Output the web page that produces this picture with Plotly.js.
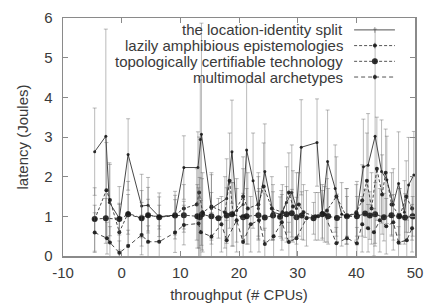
<!DOCTYPE html>
<html>
<head>
<meta charset="utf-8">
<script src="https://cdn.plot.ly/plotly-3.0.1.min.js"></script>
<style>html,body{margin:0;padding:0;background:#fff;}#chart{width:424px;height:303px;}</style>
</head>
<body>
<div id="chart"></div>
<script>
// Series names
const seriesNames = ["the location-identity split", "lazily amphibious epistemologies", "topologically certifiable technology", "multimodal archetypes"];

// Series A
const xA = [-4.6, -2.7, -2.1, -0.4, 1.1, 3.4, 4.5, 6.4, 9.1, 10.6, 13.0, 13.4, 13.6, 15.3, 17.9, 18.8, 19.6, 20.7, 21.3, 22.4, 23.3, 24.4, 25.8, 27.2, 28.1, 29.0, 29.8, 30.6, 33.3, 34.2, 35.1, 36.4, 37.5, 38.4, 40.1, 41.2, 42.0, 43.2, 44.3, 45.2, 46.3, 47.2, 48.2, 48.9, 49.8];
const yA = [2.63, 3.02, 1.35, 0.95, 2.56, 1.26, 1.28, 0.99, 1.03, 2.23, 2.23, 2.94, 3.07, 1.2, 1.45, 2.63, 1.15, 1.3, 2.67, 1.9, 1.2, 2.13, 1.1, 1.05, 1.35, 1.6, 1.2, 2.74, 2.86, 1.1, 2.38, 1.7, 1.05, 1.0, 1.08, 2.25, 2.29, 3.02, 2.13, 1.92, 1.3, 1.83, 1.1, 1.79, 2.04];
const eA = [1.1, 2.7, 1.0, 0.8, 0.9, 0.8, 0.7, 0.5, 0.5, 0.8, 0.9, 1.5, 2.8, 0.9, 1.0, 1.3, 0.8, 0.9, 1.7, 1.2, 0.8, 1.2, 0.7, 0.6, 0.9, 1.2, 0.9, 1.2, 1.1, 0.7, 1.3, 1.1, 0.8, 0.7, 0.8, 1.2, 1.3, 2.7, 1.3, 1.1, 0.9, 1.3, 0.8, 1.2, 1.1];

// Series B
const xB = [-4.6, -2.6, -2.0, -0.4, 1.1, 3.4, 4.5, 6.4, 9.1, 10.6, 12.8, 13.2, 13.8, 15.3, 17.6, 18.4, 19.0, 20.7, 21.5, 23.3, 24.2, 25.6, 27.4, 28.5, 29.2, 30.2, 31.0, 33.0, 35.0, 36.6, 38.3, 40.0, 41.0, 41.8, 42.6, 43.5, 44.4, 45.0, 46.0, 47.4, 48.5, 49.5];
const yB = [0.92, 1.66, 1.41, 0.6, 1.08, 0.95, 1.03, 0.99, 1.03, 1.2, 1.3, 1.6, 1.1, 1.25, 1.1, 1.9, 1.05, 1.5, 1.2, 1.3, 1.75, 1.2, 1.1, 1.6, 1.25, 1.3, 1.1, 1.0, 1.15, 1.5, 1.0, 1.1, 1.4, 1.9, 1.2, 2.2, 1.55, 2.1, 1.3, 1.0, 1.5, 1.2];
const eB = [0.8, 1.2, 0.9, 0.7, 0.8, 0.7, 0.7, 0.6, 0.6, 0.6, 0.9, 1.4, 1.0, 0.8, 0.9, 1.2, 0.8, 1.0, 0.9, 0.8, 1.1, 0.8, 0.7, 1.0, 0.9, 0.8, 0.7, 0.6, 0.8, 1.0, 0.7, 0.7, 0.9, 1.2, 0.9, 1.3, 1.0, 1.1, 0.8, 0.7, 0.9, 0.8];

// Series C
const xC = [-4.6, -2.7, -0.4, 1.1, 3.4, 4.5, 6.4, 9.1, 10.6, 12.9, 13.3, 13.7, 15.3, 16.5, 17.9, 18.8, 20.7, 21.3, 23.3, 24.4, 25.8, 27.0, 28.1, 29.0, 29.8, 30.7, 32.7, 34.2, 35.2, 36.7, 38.4, 40.1, 41.5, 42.3, 43.2, 44.7, 46.0, 47.3, 48.3, 49.6];
const yC = [0.93, 0.95, 0.93, 1.05, 0.95, 1.03, 0.98, 1.02, 1.03, 1.0, 0.98, 1.05, 1.0, 0.95, 1.02, 1.05, 0.98, 1.0, 1.03, 0.97, 1.02, 0.99, 1.05, 1.08, 0.98, 1.02, 0.95, 1.05, 1.0, 0.96, 1.0, 1.0, 1.07, 1.02, 1.05, 0.98, 1.03, 1.0, 0.97, 1.0];
const eC = [0.35, 0.5, 0.4, 0.5, 0.4, 0.4, 0.3, 0.4, 0.35, 0.8, 1.0, 0.9, 0.6, 0.5, 0.7, 0.8, 0.6, 0.7, 0.6, 0.6, 0.6, 0.5, 0.7, 0.6, 0.5, 0.6, 0.4, 0.6, 0.7, 0.6, 0.5, 0.5, 0.6, 0.6, 0.8, 0.6, 0.5, 0.7, 0.6, 0.5];

// Series D
const xD = [-4.6, -2.5, -2.0, -0.4, 1.1, 3.4, 4.5, 6.4, 9.1, 10.6, 13.1, 13.5, 15.3, 17.0, 17.9, 19.6, 20.7, 22.0, 23.4, 24.4, 25.9, 27.3, 28.5, 29.8, 31.5, 33.5, 34.6, 36.6, 38.4, 40.1, 41.0, 42.0, 43.0, 44.0, 45.1, 46.3, 47.2, 48.6, 49.5];
const yD = [0.59, 0.45, 0.34, 0.08, 0.25, 0.53, 0.36, 0.36, 0.59, 0.78, 0.82, 0.6, 0.49, 0.8, 0.4, 0.9, 0.35, 0.8, 0.9, 0.3, 0.5, 0.85, 0.35, 0.45, 0.95, 1.0, 1.05, 0.32, 0.45, 0.32, 0.8, 0.7, 0.6, 0.9, 0.75, 0.85, 0.34, 0.4, 0.7];
const eD = [0.5, 0.4, 0.4, 0.3, 0.4, 0.5, 0.4, 0.4, 0.5, 0.5, 0.9, 0.8, 0.6, 0.7, 0.5, 0.8, 0.6, 0.7, 0.8, 0.4, 0.6, 0.7, 0.5, 0.6, 0.7, 0.6, 0.7, 0.4, 0.5, 0.4, 0.7, 0.6, 0.6, 0.8, 0.7, 0.7, 0.4, 0.5, 0.6];

// Axis ticks
const xTicks = [-10, 0, 10, 20, 30, 40, 50];
const yTicks = [0, 1, 2, 3, 4, 5, 6];

const FONT = "Liberation Sans, Arial, sans-serif";
const TXT = "#3a3a3a";
const errStyle = (arr) => ({type: "data", array: arr, visible: true, color: "rgba(90,90,90,0.42)", thickness: 1, width: 2});

const styles = [
  {dash: "solid", size: 3, symbol: "circle"},
  {dash: "3px,2px", size: 4, symbol: "circle"},
  {dash: "3px,2px", size: 6, symbol: "circle"},
  {dash: "4px,3px", size: 4, symbol: "circle"}
];
const xs = [xA, xB, xC, xD], ys = [yA, yB, yC, yD], es = [eA, eB, eC, eD];

const traces = xs.map((x, i) => ({
  type: "scatter", mode: "lines+markers", name: seriesNames[i],
  x: x, y: ys[i], error_y: errStyle(es[i]),
  line: {color: "rgba(40,40,40,0.85)", width: 1, dash: styles[i].dash},
  marker: {color: "rgba(25,25,25,0.9)", size: styles[i].size, symbol: styles[i].symbol},
  showlegend: false, cliponaxis: true
}));

// Legend (gnuplot style: text right-aligned, sample to the right)
const legY = [0.950, 0.884, 0.818, 0.752];
const annotations = seriesNames.map((n, i) => ({
  xref: "paper", yref: "paper", x: 0.800, y: legY[i], xanchor: "right", yanchor: "middle",
  text: n, showarrow: false, font: {family: FONT, size: 15, color: TXT}
}));
const shapes = [];
seriesNames.forEach((n, i) => {
  shapes.push({type: "line", xref: "paper", yref: "paper", x0: 0.827, x1: 0.943, y0: legY[i], y1: legY[i],
    line: {color: "rgba(40,40,40,0.8)", width: 1, dash: styles[i].dash}});
  shapes.push({type: "line", xref: "paper", yref: "paper", x0: 0.886, x1: 0.886, y0: legY[i] - 0.012, y1: legY[i] + 0.012,
    line: {color: "rgba(90,90,90,0.6)", width: 1}});
  if (i > 0) {
    const s = styles[i].size;
    shapes.push({type: "circle", xref: "paper", yref: "paper", xsizemode: "pixel", ysizemode: "pixel",
      xanchor: 0.886, yanchor: legY[i], x0: -s / 2, x1: s / 2, y0: -s / 2, y1: s / 2,
      fillcolor: "rgba(25,25,25,0.9)", line: {width: 0}});
  }
});

const axisCommon = {
  showline: true, linecolor: "#8a8a8a", linewidth: 1.5, mirror: "allticks",
  ticks: "inside", ticklen: 5, tickcolor: "#8a8a8a", showgrid: false, zeroline: false,
  tickfont: {family: FONT, size: 15, color: TXT}
};

const layout = {
  width: 424, height: 303,
  margin: {l: 63, r: 9, t: 18, b: 47},
  paper_bgcolor: "#fff", plot_bgcolor: "#fff",
  showlegend: false,
  xaxis: Object.assign({}, axisCommon, {
    range: [-10, 50], tickvals: xTicks, ticktext: xTicks.map(String), ticklabelstandoff: 2,
    title: {text: "throughput (# CPUs)", font: {family: FONT, size: 15, color: TXT}, standoff: 10}
  }),
  yaxis: Object.assign({}, axisCommon, {
    range: [0, 6], tickvals: yTicks, ticktext: yTicks.map(String), ticklabelstandoff: 6,
    title: {text: "latency (Joules)", font: {family: FONT, size: 15, color: TXT}, standoff: 12}
  }),
  annotations: annotations,
  shapes: shapes
};

Plotly.newPlot("chart", traces, layout, {staticPlot: true, displayModeBar: false});
</script>
</body>
</html>
